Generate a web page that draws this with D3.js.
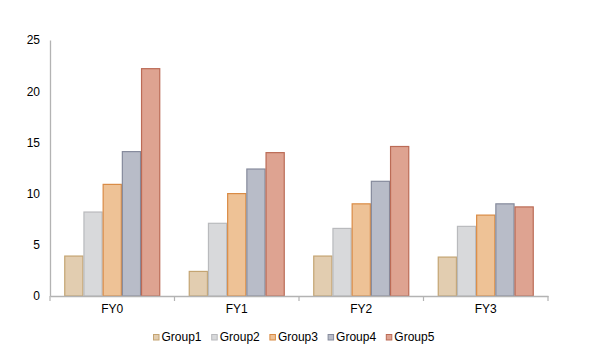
<!DOCTYPE html>
<html lang="en">
<head>
<meta charset="UTF-8">
<title>Groups by FY</title>
<script src="https://d3js.org/d3.v7.min.js"></script>
<style>
  body { margin: 0; background: #fff; }
  text { font-family: "Liberation Sans", Arial, sans-serif; }
</style>
</head>
<body>
<div id="chart"></div>
<script>
// data
const years = ["FY0", "FY1", "FY2", "FY3"];
const groups = ["Group1", "Group2", "Group3", "Group4", "Group5"];
const group1 = [3.9, 2.4, 3.9, 3.8];
const group2 = [8.2, 7.1, 6.6, 6.8];
const group3 = [10.9, 10.0, 9.0, 7.9];
const group4 = [14.1, 12.4, 11.2, 9.0];
const group5 = [22.2, 14.0, 14.6, 8.7];
const yTicks = [0, 5, 10, 15, 20, 25];

const fills = ["#e2cdb0", "#d8d9db", "#eec296", "#b8bcc8", "#dea391"];
const strokes = ["#c4a472", "#b9babd", "#d98b45", "#858a9c", "#bb6b56"];

const series = [group1, group2, group3, group4, group5];

const width = 589, height = 362;
const margin = {top: 40, right: 41, bottom: 66, left: 50};

const svg = d3.select("#chart").append("svg")
    .attr("width", width)
    .attr("height", height);

const x0 = d3.scaleBand()
    .domain(years)
    .range([margin.left, width - margin.right]);

const inset = 14.25;
const x1 = d3.scaleBand()
    .domain(groups)
    .range([inset, x0.bandwidth() - inset]);

const y = d3.scaleLinear()
    .domain([0, 25])
    .range([height - margin.bottom, margin.top]);

// bars
const g = svg.append("g");
years.forEach((yr, i) => {
    const cat = g.append("g").attr("transform", `translate(${x0(yr)},0)`);
    cat.selectAll("rect")
        .data(groups.map((grp, j) => ({grp, j, v: series[j][i]})))
        .join("rect")
        .attr("x", d => x1(d.grp) + 0.5)
        .attr("y", d => y(d.v))
        .attr("width", x1.bandwidth() - 1)
        .attr("height", d => y(0) - y(d.v))
        .attr("fill", d => fills[d.j])
        .attr("stroke", d => strokes[d.j])
        .attr("stroke-width", 1.2);
});

// y axis
const yAxis = svg.append("g")
    .attr("transform", `translate(${margin.left},0)`)
    .call(d3.axisLeft(y).tickValues(yTicks).tickSize(0).tickPadding(10));
yAxis.select(".domain").attr("stroke", "#b3b3b3").attr("stroke-width", 1.3);
yAxis.selectAll("text").attr("font-size", 12).attr("fill", "#000")
    .attr("font-family", "Liberation Sans, Arial, sans-serif");

// x axis
const xAxis = svg.append("g")
    .attr("transform", `translate(0,${y(0)})`)
    .call(d3.axisBottom(x0).tickSize(0).tickPadding(8));
xAxis.select(".domain").attr("stroke", "#b3b3b3").attr("stroke-width", 1.3);
xAxis.selectAll("text").attr("font-size", 12).attr("fill", "#000")
    .attr("font-family", "Liberation Sans, Arial, sans-serif");

// category boundary ticks
const edges = years.map(d => x0(d)).concat([x0.range()[1]]);
xAxis.selectAll("line.edge")
    .data(edges)
    .join("line")
    .attr("class", "edge")
    .attr("x1", d => d).attr("x2", d => d)
    .attr("y1", 0).attr("y2", 5)
    .attr("stroke", "#b3b3b3")
    .attr("stroke-width", 1.2);

// legend
const legend = svg.append("g").attr("transform", "translate(153,334)");
const item = legend.selectAll("g")
    .data(groups)
    .join("g")
    .attr("transform", (d, i) => `translate(${i * 58.2},0)`);
item.append("rect")
    .attr("x", 0.5).attr("y", 0.5)
    .attr("width", 5.5).attr("height", 5.5)
    .attr("fill", (d, i) => fills[i])
    .attr("stroke", (d, i) => strokes[i]);
item.append("text")
    .attr("x", 8.5)
    .attr("y", 6.5)
    .attr("font-size", 12)
    .attr("fill", "#000")
    .text(d => d);
</script>
</body>
</html>
